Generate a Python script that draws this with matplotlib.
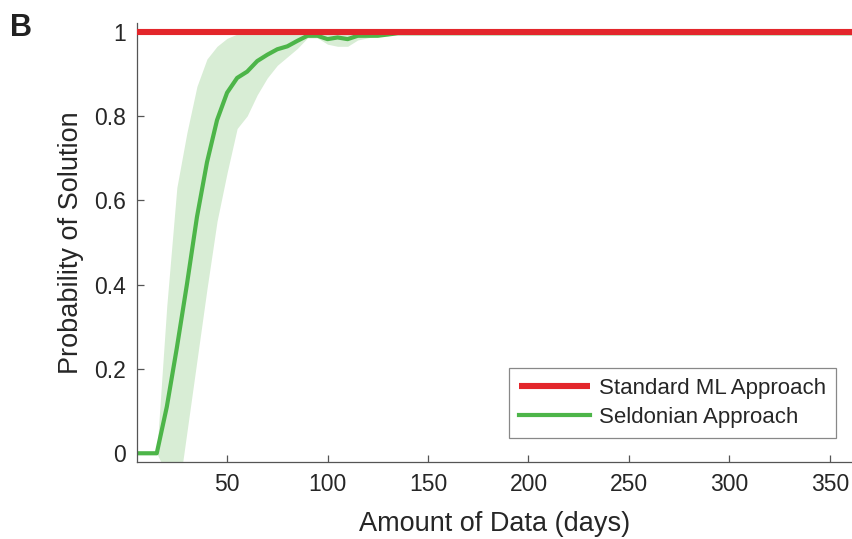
"""Probability of finding a solution vs. amount of training data (panel B)."""

import matplotlib

matplotlib.use("Agg")

import matplotlib.pyplot as plt
from matplotlib.ticker import FuncFormatter

# values
days = [5, 10, 15, 20, 25, 30, 35, 40, 45, 50, 55, 60, 65, 70, 75, 80, 85,
        90, 95, 100, 105, 110, 115, 120, 125, 130, 135, 140, 365]
seldonian_mean = [0, 0, 0, 0.11, 0.25, 0.40, 0.56, 0.69, 0.79, 0.855, 0.89,
                  0.905, 0.93, 0.945, 0.958, 0.965, 0.978, 0.99, 0.99, 0.982,
                  0.986, 0.982, 0.99, 0.99, 0.99, 0.993, 0.996, 0.996, 0.996]
seldonian_upper = [0, 0, 0, 0.35, 0.63, 0.76, 0.87, 0.935, 0.965, 0.984, 0.994,
                   0.998, 1, 1, 1, 1, 1, 1, 1, 1, 1, 1, 1, 1, 1, 1, 1, 1, 1]
seldonian_lower = [0, 0, 0, -0.05, -0.12, 0.05, 0.22, 0.39, 0.55, 0.665, 0.77,
                   0.80, 0.85, 0.89, 0.92, 0.94, 0.96, 0.985, 0.985, 0.97,
                   0.965, 0.965, 0.98, 0.985, 0.99, 0.99, 0.995, 0.996, 0.996]
standard_days = [5, 365]
standard_prob = [1, 1]

x_ticks = [50, 100, 150, 200, 250, 300, 350]
y_ticks = [0, 0.2, 0.4, 0.6, 0.8, 1]

RED = "#e3262b"
GREEN = "#4db549"
BAND = "#d8edd5"
AXIS = "#555555"
TEXT = "#262626"

plt.rcParams["font.family"] = ["Liberation Sans", "DejaVu Sans"]

fig = plt.figure(figsize=(8.52, 5.39), dpi=100)
ax = fig.add_axes([0.1604, 0.1434, 0.8396, 0.8145])

ax.fill_between(days, seldonian_lower, seldonian_upper, color=BAND,
                linewidth=0, zorder=1)
ax.plot(standard_days, standard_prob, color=RED, lw=4.4, zorder=3,
        label="Standard ML Approach", solid_capstyle="butt")
ax.plot(days, seldonian_mean, color=GREEN, lw=3.0, zorder=2,
        label="Seldonian Approach")

ax.set_xlim(5, 361)
ax.set_ylim(-0.02, 1.021)
ax.set_xticks(x_ticks)
ax.set_yticks(y_ticks)
ax.yaxis.set_major_formatter(FuncFormatter(lambda v, _: f"{v:g}"))

for side in ("top", "right"):
    ax.spines[side].set_visible(False)
for side in ("left", "bottom"):
    ax.spines[side].set_color(AXIS)
    ax.spines[side].set_linewidth(0.9)
ax.tick_params(direction="in", length=5, width=0.9, color=AXIS,
               labelsize=16.5, labelcolor=TEXT, pad=8)

ax.set_xlabel("Amount of Data (days)", fontsize=19.5, color=TEXT, labelpad=11)
ax.set_ylabel("Probability of Solution", fontsize=19.5, color=TEXT, labelpad=7)

leg = ax.legend(loc="lower right", bbox_to_anchor=(0.978, 0.054),
                borderaxespad=0, fontsize=16, handlelength=3.2,
                handletextpad=0.4, labelspacing=0.35, borderpad=0.45,
                fancybox=False, framealpha=1, edgecolor="#888888")
leg.get_frame().set_linewidth(0.9)
for text in leg.get_texts():
    text.set_color(TEXT)

fig.text(0.012, 0.975, "B", fontsize=22, fontweight="bold", color="#222222",
         ha="left", va="top")

fig.savefig("out.png", dpi=100)
plt.close(fig)
